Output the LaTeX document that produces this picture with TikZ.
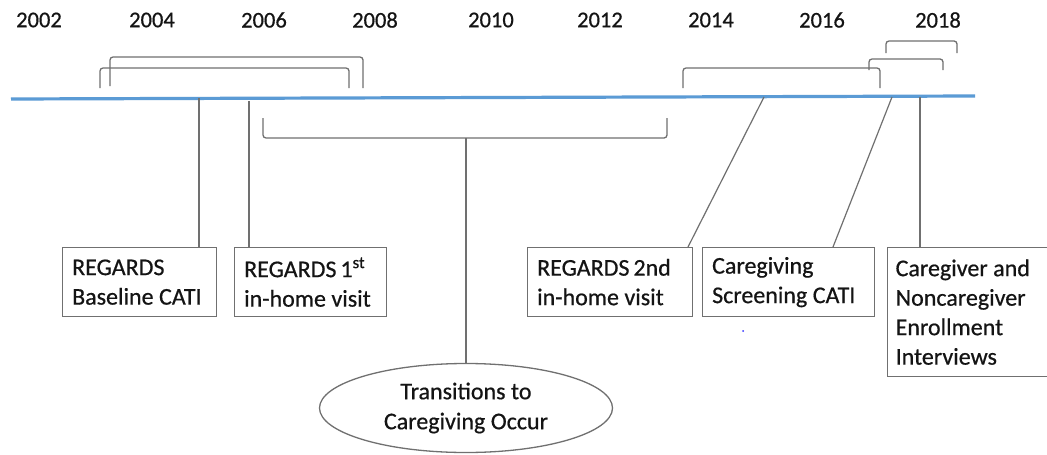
\documentclass[tikz,border=0pt]{standalone}
\usepackage{fontspec}
\setmainfont{Carlito}[RawFeature={embolden=0.6}]
\usetikzlibrary{shapes.geometric}
\definecolor{tlblue}{RGB}{91,155,213}
\definecolor{lngray}{RGB}{112,112,112}
\definecolor{txt}{RGB}{20,20,20}
\begin{document}
\begin{tikzpicture}[x=1pt,y=-1pt,
  yr/.style={font=\fontsize{22.5}{26}\selectfont, text=txt, inner sep=0pt},
  evbox/.style={draw=lngray, line width=1.3pt, anchor=north west, align=left,
    font=\fontsize{24}{29.5}\selectfont, text=txt, inner xsep=9.5pt, inner ysep=0pt,
    execute at begin node={\spaceskip=0.23em\relax}},
  conn/.style={draw=lngray, line width=1.2pt},
  brk/.style={draw=lngray, line width=1.3pt, rounded corners=3pt},
]
\useasboundingbox (0,0) rectangle (1047,455);
\clip (0,0) rectangle (1047,455);
\fill[white] (0,0) rectangle (1047,455);

% years
\node[yr] (y2002) at (39,20) {2002};
\node[yr] (y2004) at (152,20) {2004};
\node[yr] (y2006) at (264,20) {2006};
\node[yr] (y2008) at (375,20) {2008};
\node[yr] (y2010) at (491,20) {2010};
\node[yr] (y2012) at (600,20) {2012};
\node[yr] (y2014) at (711,20) {2014};
\node[yr] (y2016) at (822,20) {2016};
\node[yr] (y2018) at (938,20) {2018};

% timeline
\coordinate (tlL) at (11,99);
\coordinate (tlR) at (975,96);
\draw[tlblue, line width=3.2pt] (tlL) -- (tlR);

% brackets above the line
\draw[brk] (100,88) -- (100,68) -- (349,68) -- (349,88);
\draw[brk] (110,86) -- (110,57) -- (363,57) -- (363,88);
\draw[brk] (683,88) -- (683,68) -- (880,68) -- (880,88);
\draw[brk] (869,70) -- (869,59) -- (943,59) -- (943,70);
\draw[brk] (886,53) -- (886,41) -- (957,41) -- (957,53);

% boxes
\node[evbox, text width=135pt, minimum height=69pt] (b1) at (62,247)
  {REGARDS\\Baseline CATI};
\node[evbox, text width=133pt, minimum height=69pt] (b2) at (234,247)
  {REGARDS\,1\textsuperscript{st}\\in-home visit};
\node[evbox, text width=146pt, minimum height=69pt] (b3) at (527,247)
  {REGARDS\,2nd\\in-home visit};
\node[evbox, text width=153pt, minimum height=69pt] (b4) at (702,247)
  {Caregiving\\Screening CATI};
\node[evbox, text width=150pt, minimum height=129pt, inner xsep=8pt] (b5) at (887,247)
  {Caregiver and\\Noncaregiver\\Enrollment\\Interviews};

% ellipse
\node[draw=lngray, line width=1.3pt, ellipse, minimum width=293pt, minimum height=89pt,
  align=center, font=\fontsize{24}{30}\selectfont, text=txt, inner sep=0pt,
  execute at begin node={\spaceskip=0.23em\relax}] (el) at (466,408)
  {Transitions to\\Caregiving Occur};

% bracket below the line
\coordinate (bcL) at (263,118);
\coordinate (bcR) at (667,118);
\coordinate (bcM) at (466,138);
\draw[brk] (bcL) -- (263,138) -- (667,138) -- (bcR);
\draw[conn] (bcM) -- (el.north);

% connectors
\coordinate (p1) at (199,98);
\coordinate (p2) at (249,101);
\coordinate (p3) at (764,97);
\coordinate (p4) at (892,97);
\coordinate (p5) at (920,97);
\coordinate (q3) at (688,247);
\coordinate (q4) at (833,247);
\draw[conn] (p1) -- (p1 |- b1.north);
\draw[conn] (p2) -- (p2 |- b2.north);
\draw[conn] (p3) -- (q3);
\draw[conn] (p4) -- (q4);
\draw[conn] (p5) -- (p5 |- b5.north);

% stray dot
\fill[blue!80] (743,331) circle (1pt);
\end{tikzpicture}
\end{document}
